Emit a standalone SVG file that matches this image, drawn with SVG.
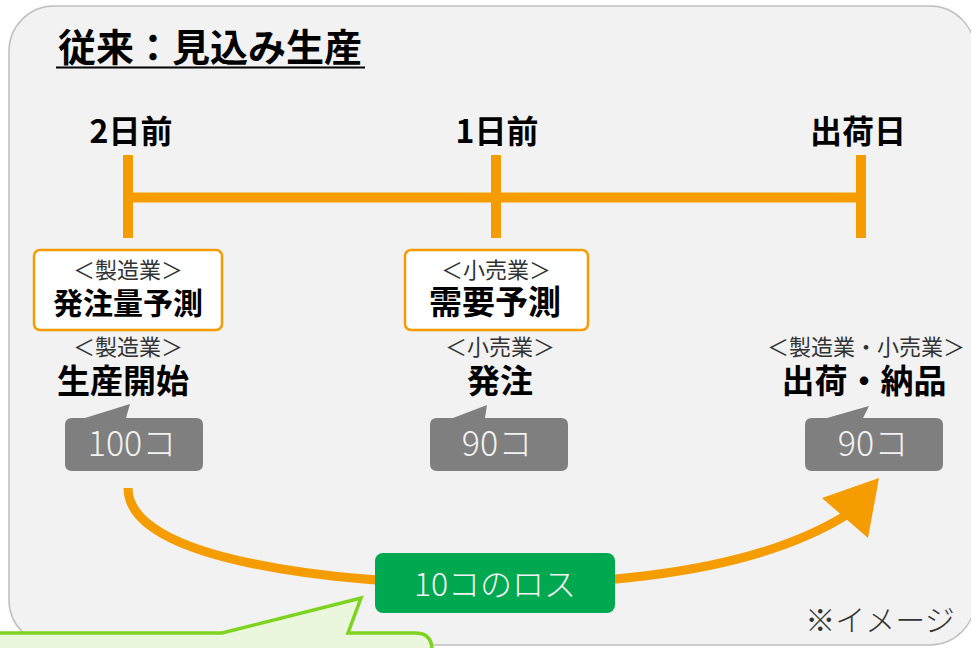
<svg xmlns="http://www.w3.org/2000/svg" width="971" height="648" viewBox="0 0 971 648">
<style>
.t{font-family:"Noto Sans CJK JP","Noto Sans",sans-serif;text-anchor:middle}
.tl{font-size:32px;font-weight:700;fill:#000}
.sm{font-size:22px;font-weight:400;fill:#333}
.big{font-size:33px;font-weight:700;fill:#000}
.num{font-size:34px;font-weight:300;fill:#f2f2f2}
.fbox{fill:#fff;stroke:#f59d00;stroke-width:2.5}
.gray{fill:#7f7f7f}
.orange{stroke:#f59d00;fill:none}
</style>
<rect x="0" y="0" width="971" height="648" fill="#fff"/>
<rect id="frame" x="9" y="6" width="966" height="639" rx="45" fill="#f2f2f2" stroke="#bfbfbf" stroke-width="1.5"/>
<g id="title">
<text class="t" x="210" y="61" style="font-size:38px;font-weight:700">従来：見込み生産</text>
<line x1="56" y1="67.5" x2="365" y2="67.5" stroke="#000" stroke-width="2"/>
</g>
<g id="timeline">
<line class="orange" x1="128" y1="197.5" x2="861" y2="197.5" stroke-width="10"/>
<line class="orange" x1="128" y1="155" x2="128" y2="238" stroke-width="10"/>
<line class="orange" x1="496" y1="155" x2="496" y2="238" stroke-width="10"/>
<line class="orange" x1="861" y1="155" x2="861" y2="238" stroke-width="10"/>
<text class="t tl" x="131" y="143">2日前</text>
<text class="t tl" x="497" y="143">1日前</text>
<text class="t tl" x="858" y="143">出荷日</text>
</g>
<g id="node-forecast-mfg">
<rect class="fbox" x="34" y="250" width="188" height="80" rx="6"/>
<text class="t sm" x="128" y="278">＜製造業＞</text>
<text class="t big" x="128" y="314" style="font-size:30px">発注量予測</text>
</g>
<g id="node-forecast-retail">
<rect class="fbox" x="405" y="250" width="183" height="80" rx="6"/>
<text class="t sm" x="496" y="278">＜小売業＞</text>
<text class="t big" x="495" y="314">需要予測</text>
</g>
<g id="node-start">
<text class="t sm" x="128" y="355">＜製造業＞</text>
<text class="t big" x="123" y="393">生産開始</text>
<path class="gray" d="M72,418 H85 L130,404 L126,418 H196 Q203,418 203,425 V464 Q203,471 196,471 H72 Q65,471 65,464 V425 Q65,418 72,418 Z"/>
<text class="t num" x="132" y="456">100コ</text>
</g>
<g id="node-order">
<text class="t sm" x="500" y="355">＜小売業＞</text>
<text class="t big" x="500" y="393">発注</text>
<path class="gray" d="M437,418 H453 L487,405 L485,418 H561 Q568,418 568,425 V464 Q568,471 561,471 H437 Q430,471 430,464 V425 Q430,418 437,418 Z"/>
<text class="t num" x="497" y="456">90コ</text>
</g>
<g id="node-ship">
<text class="t sm" x="866" y="355">＜製造業・小売業＞</text>
<text class="t big" x="864" y="393">出荷・納品</text>
<path class="gray" d="M812,418 H827 L869,406 L863,418 H936 Q943,418 943,425 V464 Q943,471 936,471 H812 Q805,471 805,464 V425 Q805,418 812,418 Z"/>
<text class="t num" x="873" y="456">90コ</text>
</g>
<g id="connectors">
<path class="orange" d="M128,488 C128,560 330,584 495,584 C660,584 775,560 848,514" stroke-width="9"/>
<polygon points="879,478 822,498 868,538" fill="#f59d00"/>
</g>
<g id="node-loss">
<rect x="375" y="553" width="240" height="60" rx="8" fill="#00a84f"/>
<text class="t" x="495" y="596" style="font-size:32px;font-weight:300;fill:#f2f2f2">10コのロス</text>
</g>
<g id="note">
<text class="t" x="880" y="631" style="font-size:30px;font-weight:300;fill:#333">※イメージ</text>
</g>
<g id="callout">
<path d="M-10,633 L222,633 L361,598 L348,633 L415,633 Q432,633 432,650 L432,700 L-10,700 Z" fill="#ebf7dd" stroke="#7ed321" stroke-width="3.5" stroke-linejoin="miter"/>
</g>
</svg>
